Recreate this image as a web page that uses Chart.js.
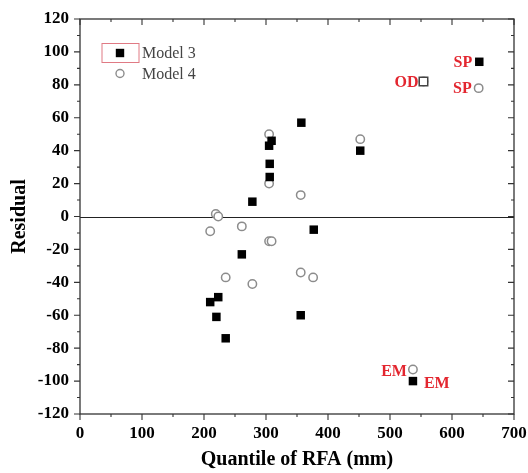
<!DOCTYPE html>
<html>
<head>
<meta charset="utf-8">
<script src="https://cdn.jsdelivr.net/npm/chart.js@4/dist/chart.umd.min.js"></script>
<style>
  html, body { margin: 0; padding: 0; background: #fff; }
  #wrap { width: 528px; height: 473px; }
</style>
</head>
<body>
<div id="wrap"><canvas id="c" width="528" height="473"></canvas></div>
<script>
// ---- data ----
const seriesNames = ['Model 3', 'Model 4'];
const model3X = [210, 220, 223, 235, 261, 278, 305, 306, 306, 309, 356, 357, 377, 452, 537, 554, 644];
const model3Y = [-52, -61, -49, -74, -23, 9, 43, 32, 24, 46, -60, 57, -8, 40, -100, 82, 94];
const model4X = [210, 219, 223, 235, 261, 278, 305, 305, 305, 309, 356, 356, 376, 452, 537, 554, 643];
const model4Y = [-9, 1.5, 0, -37, -6, -41, 50, 20, -15, -15, 13, -34, -37, 47, -93, 82, 78];
const xTicks = [0, 100, 200, 300, 400, 500, 600, 700];
const yTicks = [-120, -100, -80, -60, -40, -20, 0, 20, 40, 60, 80, 100, 120];
const annotTexts = ['SP', 'SP', 'OD', 'EM', 'EM'];
const annotSeries = [0, 1, 1, 1, 0];
const annotIndex = [16, 16, 15, 14, 14];

// ---- styles ----
const SERIF = '"Liberation Serif", "Times New Roman", serif';
const annotStyle = [
  { dx: -7, dy: 1, align: 'right' },
  { dx: -7, dy: 1, align: 'right' },
  { dx: -5, dy: 1, align: 'right' },
  { dx: -6, dy: 2, align: 'right' },
  { dx: 11, dy: 3, align: 'left' }
];
const odIdx = 15;

const pts = (xs, ys) => xs.map((x, i) => ({ x: x, y: ys[i] }));

const framePlugin = {
  id: 'frame',
  beforeDatasetsDraw(chart) {
    const { ctx, chartArea: a, scales: { x, y } } = chart;
    ctx.save();
    ctx.strokeStyle = '#222';
    ctx.lineWidth = 1.2;
    const y0 = Math.round(y.getPixelForValue(0)) + 0.5;
    ctx.beginPath(); ctx.moveTo(a.left, y0); ctx.lineTo(a.right, y0); ctx.stroke();
    ctx.strokeStyle = '#333';
    ctx.lineWidth = 1.3;
    ctx.strokeRect(a.left, a.top, a.right - a.left, a.bottom - a.top);
    ctx.lineWidth = 1.1;
    ctx.beginPath();
    for (let v = x.min; v <= x.max + 1e-6; v += 50) {
      const px = x.getPixelForValue(v);
      const major = Math.abs(v % 100) < 1e-6;
      const L = major ? 6 : 3;
      ctx.moveTo(px, a.bottom); ctx.lineTo(px, a.bottom + L);
      ctx.moveTo(px, a.top); ctx.lineTo(px, a.top + L);
    }
    for (let v = y.min; v <= y.max + 1e-6; v += 10) {
      const py = y.getPixelForValue(v);
      const major = Math.abs(v % 20) < 1e-6;
      const L = major ? 6 : 3;
      ctx.moveTo(a.left, py); ctx.lineTo(a.left - L, py);
      ctx.moveTo(a.right, py); ctx.lineTo(a.right - L, py);
    }
    ctx.stroke();
    ctx.restore();
  },
  afterDatasetsDraw(chart) {
    const { ctx, chartArea: a } = chart;
    ctx.save();
    const lx = a.left + 40, ly1 = a.top + 34, ly2 = a.top + 54.5;
    ctx.strokeStyle = '#e07a84';
    ctx.lineWidth = 1;
    ctx.strokeRect(lx - 18, ly1 - 9.5, 37, 19);
    ctx.fillStyle = '#000';
    ctx.fillRect(lx - 4.2, ly1 - 4.2, 8.4, 8.4);
    ctx.strokeStyle = '#8c8c8c';
    ctx.lineWidth = 1.4;
    ctx.beginPath(); ctx.arc(lx, ly2, 4, 0, Math.PI * 2); ctx.stroke();
    ctx.fillStyle = '#444';
    ctx.font = '16px ' + SERIF;
    ctx.textAlign = 'left';
    ctx.textBaseline = 'middle';
    ctx.fillText(seriesNames[0], lx + 22, ly1 + 1);
    ctx.fillText(seriesNames[1], lx + 22, ly2 + 1);
    ctx.fillStyle = '#e3262f';
    ctx.font = 'bold 16px ' + SERIF;
    annotTexts.forEach((t, i) => {
      const el = chart.getDatasetMeta(annotSeries[i]).data[annotIndex[i]];
      const s = annotStyle[i];
      ctx.textAlign = s.align;
      ctx.fillText(t, el.x + s.dx, el.y + s.dy);
    });
    ctx.restore();
  }
};

const tickFont = { family: SERIF, size: 17, weight: 'bold' };
const titleFont = { family: SERIF, size: 20, weight: 'bold' };

new Chart(document.getElementById('c'), {
  type: 'scatter',
  data: {
    datasets: [
      {
        label: seriesNames[0],
        data: pts(model3X, model3Y),
        pointStyle: 'rect',
        pointRadius: 6,
        backgroundColor: model3X.map((_, i) => i === odIdx ? '#fff' : '#000'),
        borderColor: model3X.map((_, i) => i === odIdx ? '#444' : '#000'),
        borderWidth: model3X.map((_, i) => i === odIdx ? 1.5 : 0)
      },
      {
        label: seriesNames[1],
        data: pts(model4X, model4Y),
        pointStyle: 'circle',
        pointRadius: 4.2,
        backgroundColor: '#fff',
        borderColor: '#8c8c8c',
        borderWidth: 1.5
      }
    ]
  },
  options: {
    responsive: false,
    animation: false,
    devicePixelRatio: 1,
    layout: { padding: { top: 19, right: 14, left: 0, bottom: 0 } },
    plugins: { legend: { display: false }, tooltip: { enabled: false } },
    scales: {
      x: {
        type: 'linear', min: 0, max: 700,
        afterBuildTicks: s => { s.ticks = xTicks.map(v => ({ value: v })); },
        ticks: { font: tickFont, color: '#000', padding: 9, maxRotation: 0, autoSkip: false },
        grid: { display: false, drawTicks: false },
        border: { display: false },
        title: { display: true, text: 'Quantile of RFA (mm)', font: titleFont, color: '#000', padding: { top: 0, bottom: 1 } },
        afterFit: s => { s.height = 59; s.paddingLeft = 0; s.paddingRight = 0; }
      },
      y: {
        type: 'linear', min: -120, max: 120,
        afterBuildTicks: s => { s.ticks = yTicks.map(v => ({ value: v })); },
        ticks: { font: tickFont, color: '#000', padding: 11, autoSkip: false },
        grid: { display: false, drawTicks: false },
        border: { display: false },
        title: { display: true, text: 'Residual', font: titleFont, color: '#000', padding: { top: 8, bottom: 0 } },
        afterFit: s => { s.width = 80; s.paddingTop = 0; s.paddingBottom = 0; }
      }
    }
  },
  plugins: [framePlugin]
});
</script>
</body>
</html>
